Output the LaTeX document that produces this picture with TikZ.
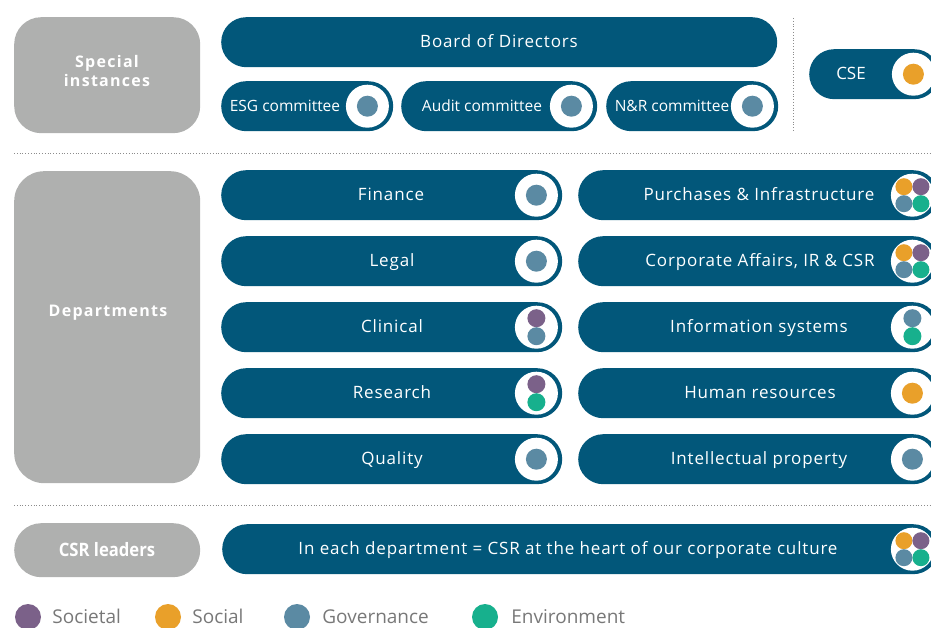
\documentclass[tikz,border=0pt]{standalone}
\usepackage{fontspec}
\setmainfont{Open Sans}
\newfontfamily\wideface[LetterSpace=5]{Open Sans}
\newfontfamily\groupface[LetterSpace=8]{Open Sans}
\newfontfamily\narrowface[FakeStretch=0.9]{Open Sans}
\usetikzlibrary{positioning}

\definecolor{navy}{RGB}{2,87,122}
\definecolor{pebble}{RGB}{175,176,175}
\definecolor{societal}{RGB}{123,97,137}
\definecolor{social}{RGB}{233,160,42}
\definecolor{gov}{RGB}{91,138,163}
\definecolor{enviro}{RGB}{23,176,141}
\definecolor{dotgrey}{RGB}{140,140,140}
\definecolor{legendgrey}{RGB}{120,120,120}

\tikzset{
  group/.style={
    fill=pebble,
    rounded corners=27pt,
    inner sep=0pt,
    minimum width=186pt,
    anchor=north west,
  },
  grouptext/.style={
    text=white,
    font=\groupface\bfseries\fontsize{16}{19}\selectfont,
    align=center,
    inner sep=0pt,
  },
  pill/.style={
    fill=navy,
    rounded corners=25pt,
    minimum height=50pt,
    inner sep=0pt,
    anchor=north west,
  },
  badge/.style={
    circle,
    fill=white,
    minimum size=43pt,
    inner sep=0pt,
  },
  pilltext/.style={
    text=white,
    font=\wideface\fontsize{17}{20}\selectfont,
    inner sep=0pt,
    text height=0.72em,
    text depth=0pt,
    yshift=-3pt,
  },
  smalltext/.style={
    text=white,
    font=\fontsize{15.5}{18}\selectfont,
    inner sep=0pt,
    text height=0.72em,
    text depth=0pt,
    yshift=-3pt,
  },
  divider/.style={
    dotgrey,
    dotted,
    line width=0.8pt,
  },
  legdot/.style={
    circle,
    minimum size=26pt,
    inner sep=0pt,
  },
  legtext/.style={
    text=legendgrey,
    font=\fontsize{19}{22}\selectfont,
    inner sep=0pt,
    text height=0.72em,
    text depth=0pt,
  },
  pics/one/.style={
    code={\fill[#1] (0,0) circle (10.5pt);},
  },
  pics/two/.style 2 args={
    code={
      \fill[#1] (0,9pt) circle (9pt);
      \fill[#2] (0,-9pt) circle (9pt);
    },
  },
  pics/four/.style={
    code={
      \fill[social] (-8.5pt,8.5pt) circle (8.5pt);
      \fill[societal] (8.5pt,8.5pt) circle (8.5pt);
      \fill[gov] (-8.5pt,-8.5pt) circle (8.5pt);
      \fill[enviro] (8.5pt,-8.5pt) circle (8.5pt);
    },
  },
}

\begin{document}
\begin{tikzpicture}[x=1pt, y=-1pt]

  \useasboundingbox (0,0) rectangle (931,628);
  \clip (0,0) rectangle (931,628);

  % left column
  \node[group, minimum height=116pt] (special) at (14,17) {};
  \node[group, minimum height=312pt, rounded corners=30pt] (depts) at (14,171) {};
  \node[group, minimum height=54pt] (leaders) at (14,523) {};
  \node[grouptext] (specialt) at (107,71) {Special\\instances};
  \node[grouptext] (deptst) at (108,313) {Departments};
  \node[grouptext, font=\narrowface\bfseries\fontsize{18.5}{21}\selectfont] (leaderst) at (107,550) {CSR leaders};

  % dividers
  \coordinate (d1a) at (14,153);
  \coordinate (d1b) at (931,153);
  \coordinate (d2a) at (14,505);
  \coordinate (d2b) at (931,505);
  \coordinate (d3a) at (793,18);
  \coordinate (d3b) at (793,132);
  \draw[divider] (d1a) -- (d1b);
  \draw[divider] (d2a) -- (d2b);
  \draw[divider] (d3a) -- (d3b);

  % special instances
  \node[pill, minimum width=556pt] (board) at (221,17) {};
  \node[pilltext] at (499,41) {Board of Directors};

  \node[pill, minimum width=172pt] (esg) at (221,81) {};
  \node[pill, minimum width=196pt] (audit) at (401,81) {};
  \node[pill, minimum width=172pt] (nr) at (606,81) {};
  \node[pill, minimum width=130pt] (cse) at (809,49) {};
  \foreach \p in {esg,audit,nr,cse}
    \node[badge] (\p b) at ([xshift=-26pt]\p.east) {};
  \node[smalltext] at (285,105) {ESG committee};
  \node[smalltext] at (482,105) {Audit committee};
  \node[smalltext] at (672,105) {N\&R committee};
  \node[smalltext, font=\fontsize{17}{20}\selectfont] at (851,73) {CSE};
  \pic at (esgb) {one=gov};
  \pic at (auditb) {one=gov};
  \pic at (nrb) {one=gov};
  \pic at (cseb) {one=social};

  % departments
  \foreach \p/\y in {fin/170,legal/236,clin/302,res/368,qual/434}
    \node[pill, minimum width=341pt] (\p) at (221,\y) {};
  \foreach \p/\y in {purch/170,corp/236,info/302,hr/368,ip/434}
    \node[pill, minimum width=360pt] (\p) at (578,\y) {};
  \foreach \p in {fin,legal,clin,res,qual,purch,corp,info,hr,ip}
    \node[badge] (\p b) at ([xshift=-26pt]\p.east) {};

  \node[pilltext] at (391,194) {Finance};
  \node[pilltext] at (392,260) {Legal};
  \node[pilltext] at (392,326) {Clinical};
  \node[pilltext] at (392,392) {Research};
  \node[pilltext] at (392,458) {Quality};
  \node[pilltext] at (759,194) {Purchases \& Infrastructure};
  \node[pilltext] at (760,260) {Corporate Affairs, IR \& CSR};
  \node[pilltext] at (759,326) {Information systems};
  \node[pilltext] at (760,392) {Human resources};
  \node[pilltext] at (759,458) {Intellectual property};

  \pic at (finb) {one=gov};
  \pic at (legalb) {one=gov};
  \pic at (clinb) {two={societal}{gov}};
  \pic at (resb) {two={societal}{enviro}};
  \pic at (qualb) {one=gov};
  \pic at (purchb) {four};
  \pic at (corpb) {four};
  \pic at (infob) {two={gov}{enviro}};
  \pic at (hrb) {one=social};
  \pic at (ipb) {one=gov};

  % csr leaders
  \node[pill, minimum width=716pt] (culture) at (222,524) {};
  \node[badge] (cultureb) at ([xshift=-26pt]culture.east) {};
  \node[pilltext] at (568,548) {In each department = CSR at the heart of our corporate culture};
  \pic at (cultureb) {four};

  % legend
  \node[legdot, fill=societal] (socd) at (28,617) {};
  \node[legdot, fill=social] (sold) at (168,617) {};
  \node[legdot, fill=gov] (govd) at (297,617) {};
  \node[legdot, fill=enviro] (envd) at (485,617) {};
  \node[legtext, right=11pt of socd, yshift=-3pt] (soct) {Societal};
  \node[legtext, right=11pt of sold, yshift=-3pt] (solt) {Social};
  \node[legtext, right=12pt of govd, yshift=-3pt] (govt) {Governance};
  \node[legtext, right=13pt of envd, yshift=-3pt] (envt) {Environment};

\end{tikzpicture}
\end{document}
